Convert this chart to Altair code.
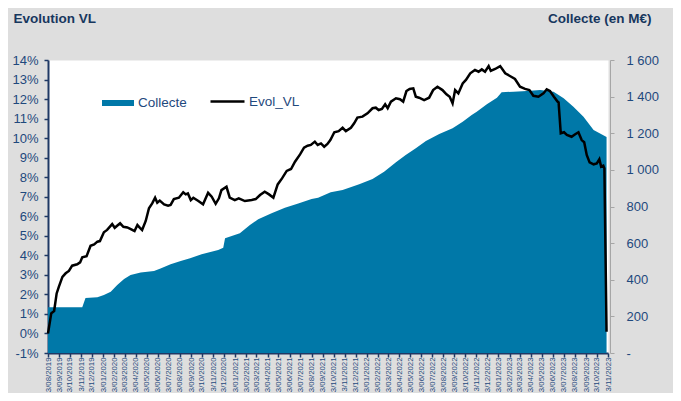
import altair as alt
import pandas as pd

# ---------------- data ----------------
VL_DATES = [
    "2019-08-03", "2019-08-12", "2019-08-20", "2019-08-27", "2019-09-02", "2019-09-12", "2019-09-21",
    "2019-09-30", "2019-10-09", "2019-10-23", "2019-10-31", "2019-11-06", "2019-11-18", "2019-11-29",
    "2019-12-09", "2019-12-18", "2019-12-25",
    "2020-01-05", "2020-01-14", "2020-01-28", "2020-02-04", "2020-02-19", "2020-02-28", "2020-03-10",
    "2020-03-21", "2020-03-30", "2020-04-07", "2020-04-14", "2020-04-20", "2020-04-30", "2020-05-09",
    "2020-05-18", "2020-05-26", "2020-06-01", "2020-06-08", "2020-06-20", "2020-07-01", "2020-07-08",
    "2020-07-17", "2020-07-31", "2020-08-12", "2020-08-19", "2020-08-25", "2020-09-02", "2020-09-09",
    "2020-09-23", "2020-10-06", "2020-10-20", "2020-10-30", "2020-11-10", "2020-11-19", "2020-11-26",
    "2020-12-10", "2020-12-19",
    "2021-01-02", "2021-01-13", "2021-01-30", "2021-02-18", "2021-03-01", "2021-03-13", "2021-03-26",
    "2021-04-07", "2021-04-19", "2021-05-01", "2021-05-13", "2021-05-26", "2021-06-07", "2021-06-18",
    "2021-07-02", "2021-07-13", "2021-07-23", "2021-08-01", "2021-08-12", "2021-08-20", "2021-08-29",
    "2021-09-07", "2021-09-16", "2021-09-24", "2021-10-05", "2021-10-17", "2021-10-28", "2021-11-06",
    "2021-11-20", "2021-11-29", "2021-12-08", "2021-12-22",
    "2022-01-05", "2022-01-19", "2022-01-28", "2022-02-05", "2022-02-14", "2022-02-23", "2022-03-02",
    "2022-03-11", "2022-03-25", "2022-04-05", "2022-04-14", "2022-04-23", "2022-05-02", "2022-05-12",
    "2022-05-19", "2022-05-28", "2022-06-11", "2022-06-25", "2022-07-06", "2022-07-18", "2022-08-01",
    "2022-08-12", "2022-08-21", "2022-08-29", "2022-09-05", "2022-09-14", "2022-09-26", "2022-10-05",
    "2022-10-17", "2022-10-30", "2022-11-09", "2022-11-18", "2022-11-27", "2022-12-07", "2022-12-13",
    "2022-12-25",
    "2023-01-08", "2023-01-22", "2023-02-04", "2023-02-18", "2023-03-04", "2023-03-18", "2023-03-30",
    "2023-04-10", "2023-04-24", "2023-05-08", "2023-05-17", "2023-05-26", "2023-06-06", "2023-06-16",
    "2023-06-19", "2023-06-25", "2023-07-04", "2023-07-12", "2023-07-25", "2023-08-04", "2023-08-13",
    "2023-08-22", "2023-08-29", "2023-09-05", "2023-09-13", "2023-09-24", "2023-10-03", "2023-10-10",
    "2023-10-15", "2023-10-21", "2023-10-24", "2023-10-30",
]
VL_VALUES = [
    0.0, 1.03, 1.15, 2.05, 2.39, 2.9, 3.08, 3.2, 3.47, 3.54, 3.64, 3.9, 3.96, 4.49, 4.56, 4.7, 4.73,
    5.18, 5.3, 5.6, 5.41, 5.64, 5.46, 5.43, 5.33, 5.24, 5.55, 5.41, 5.3, 5.76, 6.41, 6.66, 6.95, 6.69,
    6.8, 6.61, 6.54, 6.58, 6.88, 6.95, 7.23, 7.12, 7.17, 6.83, 6.95, 6.78, 6.61, 7.2, 7.0, 6.64, 6.92,
    7.34, 7.51, 6.95,
    6.83, 6.92, 6.78, 6.83, 6.88, 7.09, 7.26, 7.12, 6.95, 7.63, 7.94, 8.32, 8.42, 8.79, 9.17, 9.51,
    9.61, 9.65, 9.82, 9.65, 9.73, 9.56, 9.7, 9.9, 10.3, 10.36, 10.53, 10.36, 10.53, 10.76, 11.05, 11.1,
    11.27, 11.53, 11.56, 11.44, 11.49, 11.73, 11.53, 11.87, 12.04, 11.99, 11.87, 12.41, 12.52, 12.55,
    12.12, 12.07, 11.95, 12.07, 12.46, 12.63, 12.46, 12.24, 12.12, 11.78, 12.46, 12.29, 12.8, 12.98,
    13.32, 13.49, 13.4, 13.52, 13.4, 13.69, 13.44, 13.54,
    13.69, 13.32, 13.18, 13.03, 12.63, 12.52, 12.46, 12.17, 12.12, 12.29, 12.5, 12.41, 12.12, 11.87,
    11.83, 10.25, 10.3, 10.16, 10.07, 10.2, 10.3, 9.9, 9.79, 9.14, 8.76, 8.66, 8.71, 8.92, 8.54, 8.59,
    8.45, 0.09,
]

COL_DATES = [
    "2019-08-03", "2019-11-06", "2019-11-15", "2019-12-18", "2020-01-05", "2020-01-24", "2020-02-11",
    "2020-03-01", "2020-03-19", "2020-04-16", "2020-05-23", "2020-06-10", "2020-07-08", "2020-08-05",
    "2020-08-31", "2020-10-02", "2020-11-17", "2020-12-01", "2020-12-06", "2021-01-16", "2021-02-13",
    "2021-03-08", "2021-04-14", "2021-05-21", "2021-06-27", "2021-08-03", "2021-08-21", "2021-09-25",
    "2021-10-28", "2021-12-13", "2022-01-19", "2022-02-20", "2022-03-25", "2022-04-21", "2022-05-19",
    "2022-06-16", "2022-07-23", "2022-08-29", "2022-09-26", "2022-10-21", "2022-11-04", "2022-12-02",
    "2022-12-30", "2023-01-12", "2023-02-14", "2023-03-23", "2023-04-29", "2023-06-05", "2023-07-03",
    "2023-07-30", "2023-08-27", "2023-09-24", "2023-10-12", "2023-10-30",
]
COL_VALUES = [
    250, 250, 300, 304, 317, 335, 371, 404, 426, 439, 448, 462, 484, 502, 517, 539, 562, 575, 626,
    654, 699, 730, 763, 793, 817, 841, 848, 878, 890, 921, 950, 990, 1041, 1081, 1118, 1158, 1196,
    1227, 1263, 1300, 1318, 1358, 1394, 1424, 1427, 1431, 1436, 1427, 1391, 1345, 1290, 1218, 1198,
    1180,
]

X_TICK_DATES = list(pd.date_range("2019-08-03", periods=52, freq=pd.DateOffset(months=1)))
LEFT_TICKS = list(range(-1, 15))
RIGHT_TICKS = list(range(0, 1601, 200))

# ---------------- styles ----------------
BG = "#DEDEDE"
BLUE = "#0078A8"
NAVY = "#1F3864"
LABEL = "#1F497D"
TITLE = "#17375E"
GRAY = "#A6A6A6"

vl_df = pd.DataFrame({"date": VL_DATES, "value": VL_VALUES, "serie": "Evol_VL"})
col_df = pd.DataFrame({"date": COL_DATES, "value": COL_VALUES, "serie": "Collecte"})


def dt(d):
    return alt.DateTime(year=d.year, month=d.month, date=d.day, utc=True)


x_enc = alt.X(
    "date:T",
    title=None,
    scale=alt.Scale(type="utc", domain=[dt(X_TICK_DATES[0]), dt(X_TICK_DATES[-1])]),
    axis=alt.Axis(
        values=[dt(d) for d in X_TICK_DATES],
        labelExpr="utcFormat(datum.value, '%-d/%m/%Y')",
        labelAngle=-90,
        labelFontSize=7.8,
        labelColor=LABEL,
        labelOverlap=False,
        labelPadding=0,
        labelFlush=False,
        tickSize=4,
        tickColor=NAVY,
        tickWidth=1.5,
        domainColor=NAVY,
        domainWidth=2,
        grid=False,
    ),
)

area = alt.Chart(col_df).mark_area(interpolate="linear").encode(
    x=x_enc,
    y=alt.Y(
        "value:Q",
        title="Collecte (en M€)",
        scale=alt.Scale(domain=[0, 1600], nice=False, zero=True),
        axis=alt.Axis(
            orient="right",
            values=RIGHT_TICKS,
            labelExpr="datum.value == 0 ? '-' : replace(format(datum.value, ','), ',', ' ')",
            grid=False,
            offset=2,
            tickSize=4,
            tickColor=GRAY,
            domainColor=GRAY,
            labelPadding=12,
            labelAlign="left",
            labelFontSize=13,
            labelColor=LABEL,
            titleAngle=0,
            titleAlign="right",
            titleX=41,
            titleY=-38,
            titleBaseline="alphabetic",
            titleFontSize=13.5,
            titleFontWeight="bold",
            titleColor=TITLE,
        ),
    ),
    fill=alt.Fill(
        "serie:N",
        scale=alt.Scale(domain=["Collecte"], range=[BLUE]),
        legend=alt.Legend(
            title=None,
            orient="none",
            legendX=54,
            legendY=27,
            symbolType="M-1,-0.1875H1V0.1875H-1Z",
            symbolSize=1024,
            symbolStrokeWidth=0,
            labelFontSize=13.5,
            labelColor=LABEL,
            labelOffset=4,
            padding=0,
        ),
    ),
)

line = alt.Chart(vl_df).mark_line(color="black", strokeWidth=2.5).encode(
    x=x_enc,
    y=alt.Y(
        "value:Q",
        title="Evolution VL",
        scale=alt.Scale(domain=[-1, 14], nice=False, zero=False),
        axis=alt.Axis(
            orient="left",
            values=LEFT_TICKS,
            labelExpr="datum.value + '%'",
            grid=False,
            tickSize=4,
            tickColor=NAVY,
            tickWidth=1.5,
            domainColor=NAVY,
            domainWidth=2,
            labelPadding=6,
            labelFontSize=13,
            labelColor=LABEL,
            titleAngle=0,
            titleAlign="left",
            titleX=-35,
            titleY=-38,
            titleBaseline="alphabetic",
            titleFontSize=13.5,
            titleFontWeight="bold",
            titleColor=TITLE,
        ),
    ),
    stroke=alt.Stroke(
        "serie:N",
        scale=alt.Scale(domain=["Evol_VL"], range=["black"]),
        legend=alt.Legend(
            title=None,
            orient="none",
            legendX=161,
            legendY=23,
            symbolType="stroke",
            symbolSize=1156,
            symbolStrokeWidth=2.5,
            labelFontSize=13.5,
            labelColor=LABEL,
            labelOffset=3,
            padding=0,
        ),
    ),
)

chart = (
    alt.layer(area, line)
    .resolve_scale(y="independent")
    .properties(
        width=560,
        height=293,
        background=BG,
        padding={"left": 40, "top": 52, "right": 65, "bottom": 40},
        autosize=alt.AutoSizeParams(type="none"),
    )
    .configure(font="Liberation Sans")
    .configure_view(fill="white", stroke="transparent")
)

chart.save("out.html", embed_options={"renderer": "svg", "actions": False})
